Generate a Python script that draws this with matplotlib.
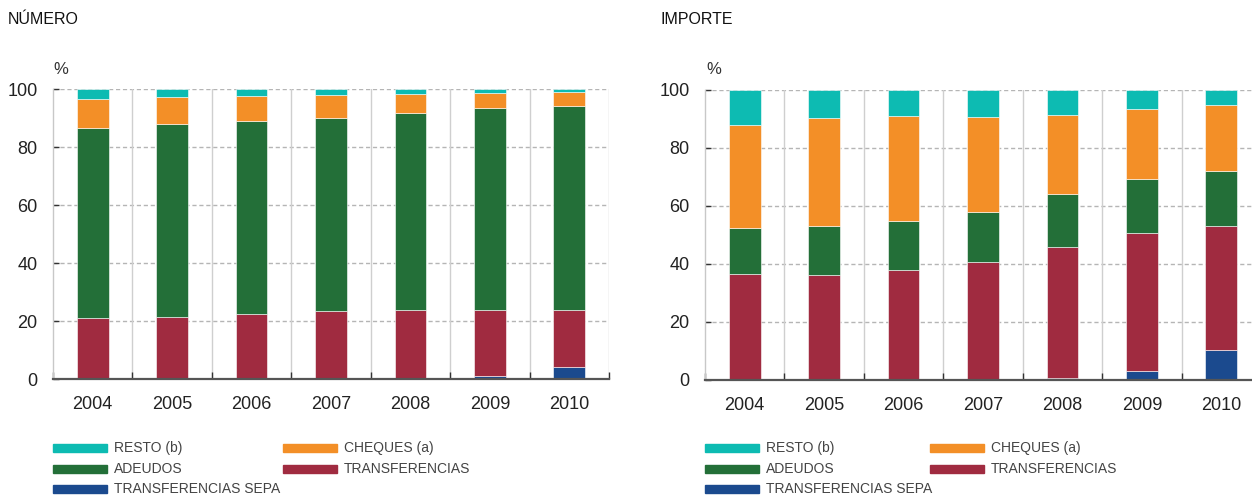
import matplotlib
matplotlib.use("Agg")
import matplotlib.pyplot as plt
from matplotlib.patches import Rectangle
import numpy as np

plt.rcParams['font.family'] = ['Liberation Sans', 'DejaVu Sans']

years = ['2004', '2005', '2006', '2007', '2008', '2009', '2010']
series_names = ['TRANSFERENCIAS SEPA', 'TRANSFERENCIAS', 'ADEUDOS', 'CHEQUES (a)', 'RESTO (b)']

# NÚMERO (%)
sepa_n = [0.0, 0.0, 0.0, 0.0, 0.2, 1.0, 4.1]
transf_n = [21.1, 21.5, 22.5, 23.4, 23.6, 22.7, 19.6]
adeudos_n = [65.3, 66.5, 66.6, 66.7, 67.8, 69.7, 70.5]
cheques_n = [10.3, 9.2, 8.5, 7.7, 6.7, 5.2, 4.6]
resto_n = [3.3, 2.8, 2.4, 2.2, 1.7, 1.4, 1.2]

# IMPORTE (%)
sepa_i = [0.0, 0.0, 0.0, 0.0, 0.8, 3.2, 10.4]
transf_i = [36.7, 36.2, 38.0, 40.8, 45.1, 47.5, 42.8]
adeudos_i = [15.7, 16.9, 16.7, 17.3, 18.2, 18.6, 18.9]
cheques_i = [35.4, 37.2, 36.2, 32.5, 27.2, 24.2, 22.7]
resto_i = [12.2, 9.7, 9.1, 9.4, 8.7, 6.5, 5.2]

colors = ['#1B4A8E', '#A02B40', '#236F38', '#F38F27', '#0DBBB2']

W, H = 1252, 499
fig = plt.figure(figsize=(W / 100, H / 100), dpi=100)


def px_axes(x0, x1, ytop, ybot):
    return fig.add_axes([x0 / W, (H - ybot) / H, (x1 - x0) / W, (ybot - ytop) / H])


def draw_panel(ax, data):
    x = np.arange(len(years))
    bottom = np.zeros(len(years))
    for vals, c in zip(data, colors):
        ax.bar(x, vals, bottom=bottom, width=0.4, color=c, edgecolor='#ffffff',
               linewidth=0.4, zorder=3)
        bottom += np.array(vals)
    ax.set_xlim(-0.5, len(years) - 0.5)
    ax.set_ylim(0, 100)
    ax.set_yticks([0, 20, 40, 60, 80, 100])
    ax.set_xticks(x)
    ax.set_xticklabels(years)
    for yv in [20, 40, 60, 80, 100]:
        ax.axhline(yv, color='#b5b5b5', linewidth=1.0, linestyle=(0, (3, 2)), zorder=1)
    for b in np.arange(0.5, len(years) - 0.5 + 0.01, 1.0):
        ax.axvline(b, color='#cfcfcf', linewidth=1.0, zorder=1)
    ax.set_xticks(np.arange(-0.5, len(years), 1.0), minor=True)
    ax.tick_params(axis='x', which='major', length=0, pad=12, labelsize=13, labelcolor='#222222')
    ax.tick_params(axis='x', which='minor', direction='in', length=5, width=1.0, color='#333333')
    ax.tick_params(axis='y', direction='in', length=4, width=1.0, color='#333333',
                   pad=11, labelsize=13, labelcolor='#222222')
    for s in ['top', 'right']:
        ax.spines[s].set_visible(False)
    ax.spines['left'].set_color('#c8c8c8')
    ax.spines['left'].set_linewidth(1.0)
    ax.spines['bottom'].set_color('#555555')
    ax.spines['bottom'].set_linewidth(1.6)
    ax.spines['bottom'].set_zorder(4)


ax1 = px_axes(53, 609, 89, 379)
draw_panel(ax1, [sepa_n, transf_n, adeudos_n, cheques_n, resto_n])
ax2 = px_axes(705, 1261, 90, 380)
draw_panel(ax2, [sepa_i, transf_i, adeudos_i, cheques_i, resto_i])

# titles
fig.text(8 / W, 1 - 20 / H, 'NÚMERO', fontsize=11.5, color='#111111', va='center', ha='left')
fig.text(661 / W, 1 - 20 / H, 'IMPORTE', fontsize=11.5, color='#111111', va='center', ha='left')
fig.text(53 / W, 1 - 70 / H, '%', fontsize=12, color='#333333', va='center', ha='left')
fig.text(706 / W, 1 - 70 / H, '%', fontsize=12, color='#333333', va='center', ha='left')

# legends
legend_order = [(4, 0, 0), (3, 1, 0), (2, 0, 1), (1, 1, 1), (0, 0, 2)]
rows_y = [448, 469, 489]
for xbase, col2 in [(53, 283), (705, 930)]:
    for idx, col, row in legend_order:
        xs = xbase if col == 0 else col2
        yc = rows_y[row]
        fig.patches.append(Rectangle((xs / W, (H - yc - 4) / H), 54 / W, 8 / H,
                                     transform=fig.transFigure, color=colors[idx]))
        fig.text((xs + 61) / W, (H - yc) / H, series_names[idx], fontsize=10,
                 color='#444444', va='center', ha='left')

fig.savefig('out.png', dpi=100)
